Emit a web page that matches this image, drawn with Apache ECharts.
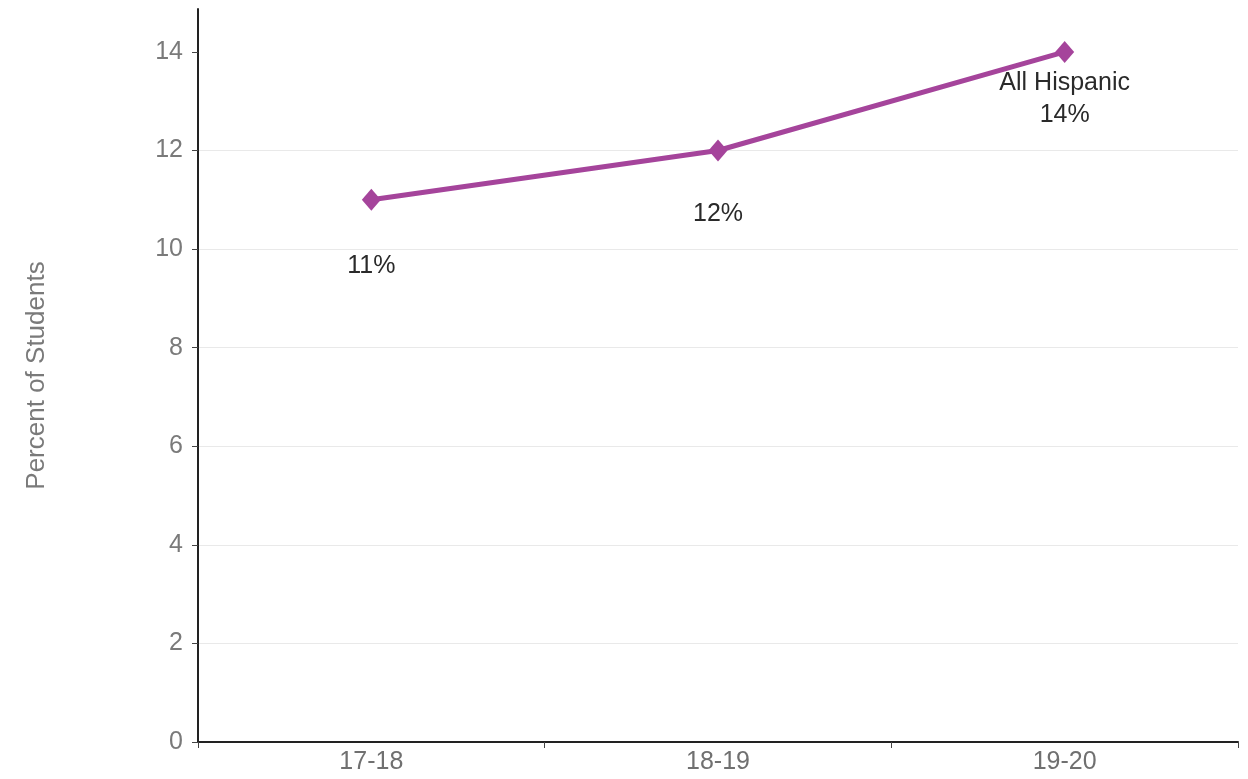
<!DOCTYPE html>
<html><head><meta charset="utf-8">
<script src="https://cdn.jsdelivr.net/npm/echarts@6/dist/echarts.min.js"></script>
<style>html,body{margin:0;padding:0;background:#fff}#c{width:1248px;height:779px}</style>
</head><body><div id="c"></div>
<script>
const categories = ['17-18', '18-19', '19-20'];
const values = [11, 12, 14];
const pointLabels = ['11%', '12%', 'All Hispanic\n14%'];
const yTicks = [0, 2, 4, 6, 8, 10, 12, 14];
const yTitle = 'Percent of Students';

const FONT = '"Liberation Sans", Arial, sans-serif';
const chart = echarts.init(document.getElementById('c'), null, {renderer: 'canvas'});
const labelDist = [39, 37, 4];
chart.setOption({
  animation: false,
  grid: {left: 198, right: 10, top: 9, bottom: 37, containLabel: false},
  xAxis: {
    type: 'category', data: categories, boundaryGap: true,
    axisLine: {lineStyle: {color: '#222', width: 2}},
    axisTick: {show: true, length: 6, lineStyle: {color: '#444', width: 1}},
    axisLabel: {color: '#707070', fontSize: 25, fontFamily: FONT, margin: 8}
  },
  yAxis: {
    type: 'value', min: 0, max: 14.87, interval: 2,
    axisLine: {show: true, lineStyle: {color: '#222', width: 2}},
    axisTick: {show: true, length: 6, customValues: yTicks, lineStyle: {color: '#444', width: 1}},
    axisLabel: {color: '#7a7a7a', fontSize: 25, fontFamily: FONT, margin: 15, customValues: yTicks},
    splitLine: {show: true, showMaxLine: false, lineStyle: {color: '#e9e9e9', width: 1}},
    name: yTitle, nameLocation: 'middle', nameGap: 148,
    nameTextStyle: {color: '#7a7a7a', fontSize: 26, fontFamily: FONT}
  },
  series: [{
    type: 'line', data: values.map((v, i) => ({
      value: v,
      label: {show: true, position: 'bottom', distance: labelDist[i], formatter: pointLabels[i]}
    })),
    symbol: 'diamond', symbolSize: [19, 22],
    lineStyle: {color: '#a5449b', width: 5},
    itemStyle: {color: '#a5449b'},
    label: {color: '#2a2a2a', fontSize: 25, fontFamily: FONT, lineHeight: 32, align: 'center'}
  }]
});
</script></body></html>
